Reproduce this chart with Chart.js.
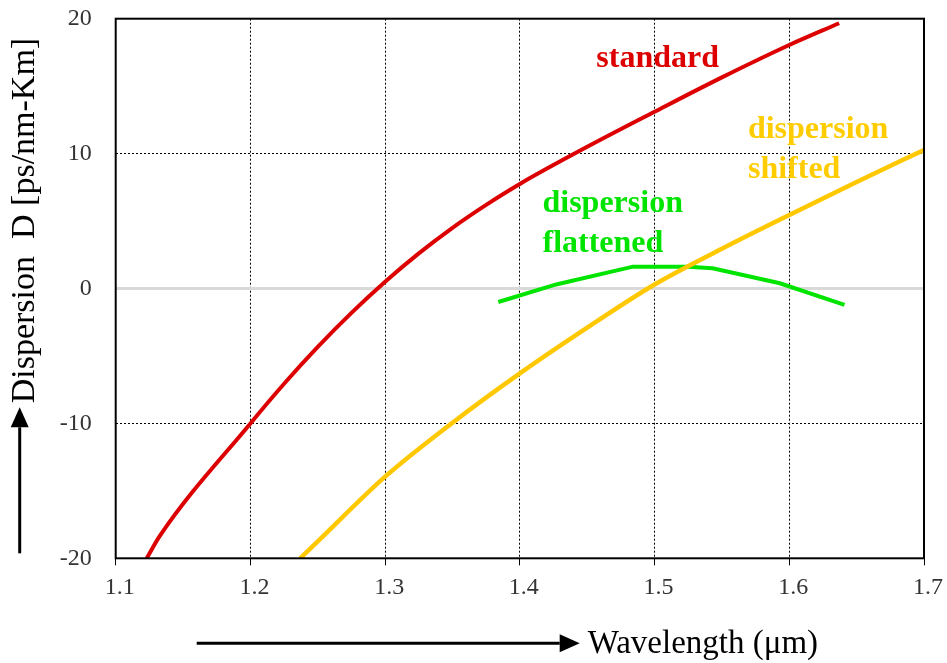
<!DOCTYPE html>
<html lang="en">
<head>
<meta charset="UTF-8">
<title>Dispersion vs Wavelength</title>
<script src="https://cdn.jsdelivr.net/npm/chart.js"></script>
<style>
  body { margin: 0; background: #fff; }
  #chart { display: block; }
</style>
</head>
<body>
<canvas id="chart" width="947" height="663"></canvas>
<script>
// values (wavelength in µm, D in ps/nm-km)
const standardX = [1.123, 1.133, 1.2, 1.225, 1.25, 1.275, 1.3, 1.325, 1.35, 1.375, 1.4, 1.45, 1.5, 1.55, 1.6, 1.637];
const standardY = [-20, -18.3, -10, -7.06, -4.33, -1.81, 0.5, 2.6, 4.5, 6.2, 7.75, 10.5, 13.1, 15.65, 18.05, 19.66];

const shiftedX = [1.237, 1.25, 1.3, 1.35, 1.4, 1.45, 1.5, 1.55, 1.6, 1.65, 1.7];
const shiftedY = [-20, -18.75, -13.95, -9.95, -6.29, -2.9, 0.3, 2.95, 5.45, 7.9, 10.27];

const flattenedX = [1.384, 1.427, 1.484, 1.525, 1.543, 1.593, 1.641];
const flattenedY = [-1.0, 0.3, 1.62, 1.62, 1.5, 0.39, -1.22];

const zeroX = [1.1, 1.7];
const zeroY = [0, 0];

const xTicks = [1.1, 1.2, 1.3, 1.4, 1.5, 1.6, 1.7];
const yTicks = [-20, -10, 0, 10, 20];

const pts = (xs, ys) => xs.map((x, i) => ({ x: x, y: ys[i] }));

// text placed in the plot, anchored in data units
const curveLabels = [
    { lines: ['standard'], x: 1.4568, y: 16.44, color: '#dd0000' },
    { lines: ['dispersion', 'shifted'], x: 1.5693, y: 11.16, color: '#ffcc00' },
    { lines: ['dispersion', 'flattened'], x: 1.4168, y: 5.69, color: '#00e400' }
];

const serif = '"Liberation Serif", "Times New Roman", serif';

function arrow(ctx, x1, y1, x2, y2) {
    const ang = Math.atan2(y2 - y1, x2 - x1);
    const hl = 20, hw = 9;
    const bx = x2 - hl * Math.cos(ang), by = y2 - hl * Math.sin(ang);
    ctx.beginPath();
    ctx.moveTo(x1, y1);
    ctx.lineTo(bx, by);
    ctx.lineWidth = 3;
    ctx.stroke();
    ctx.beginPath();
    ctx.moveTo(x2, y2);
    ctx.lineTo(bx + hw * Math.sin(ang), by - hw * Math.cos(ang));
    ctx.lineTo(bx - hw * Math.sin(ang), by + hw * Math.cos(ang));
    ctx.closePath();
    ctx.fill();
}

const decor = {
    id: 'decor',
    afterDatasetsDraw(chart) {
        const { ctx, chartArea: a, scales } = chart;
        ctx.save();
        ctx.strokeStyle = '#000';
        ctx.lineWidth = 2;
        ctx.strokeRect(a.left, a.top, a.right - a.left, a.bottom - a.top);

        ctx.font = 'bold 32px ' + serif;
        ctx.textAlign = 'left';
        ctx.textBaseline = 'alphabetic';
        curveLabels.forEach(l => {
            ctx.fillStyle = l.color;
            const px = scales.x.getPixelForValue(l.x);
            const py = scales.y.getPixelForValue(l.y);
            l.lines.forEach((t, i) => ctx.fillText(t, px, py + i * 40));
        });
        ctx.restore();
    },
    afterDraw(chart) {
        const { ctx, chartArea: a } = chart;
        ctx.save();
        ctx.fillStyle = '#000';
        ctx.strokeStyle = '#000';

        // y axis title with upward arrow
        arrow(ctx, a.left - 96, a.bottom - 5, a.left - 96, a.bottom - 151);
        ctx.save();
        ctx.translate(a.left - 82, a.bottom - 155);
        ctx.rotate(-Math.PI / 2);
        ctx.font = '34px ' + serif;
        ctx.textAlign = 'left';
        ctx.textBaseline = 'alphabetic';
        ctx.fillText('Dispersion  D [ps/nm-Km]', 0, 0);
        ctx.restore();

        // x axis title with arrow
        arrow(ctx, a.left + 81, a.bottom + 85, a.left + 464, a.bottom + 85);
        ctx.font = '33px ' + serif;
        ctx.textAlign = 'left';
        ctx.textBaseline = 'alphabetic';
        ctx.fillText('Wavelength (μm)', a.left + 472, a.bottom + 95);
        ctx.restore();
    }
};

new Chart(document.getElementById('chart').getContext('2d'), {
    type: 'line',
    data: {
        datasets: [
            {
                label: 'zero',
                data: pts(zeroX, zeroY),
                borderColor: '#d9d9d9',
                borderWidth: 3,
                pointRadius: 0,
                order: 4
            },
            {
                label: 'dispersion flattened',
                data: pts(flattenedX, flattenedY),
                borderColor: '#00e400',
                borderWidth: 4,
                pointRadius: 0,
                tension: 0,
                order: 3
            },
            {
                label: 'dispersion shifted',
                data: pts(shiftedX, shiftedY),
                borderColor: '#ffc800',
                borderWidth: 4.5,
                pointRadius: 0,
                cubicInterpolationMode: 'monotone',
                order: 2
            },
            {
                label: 'standard',
                data: pts(standardX, standardY),
                borderColor: '#dd0000',
                borderWidth: 4,
                pointRadius: 0,
                cubicInterpolationMode: 'monotone',
                order: 1
            }
        ]
    },
    options: {
        responsive: false,
        animation: false,
        layout: { padding: { left: 0, top: 18.7, right: 22.7, bottom: 0 } },
        plugins: {
            legend: { display: false },
            tooltip: { enabled: false }
        },
        scales: {
            x: {
                type: 'linear',
                min: 1.1,
                max: 1.7,
                afterBuildTicks: s => { s.ticks = xTicks.map(v => ({ value: v })); },
                afterFit: s => { s.height = 104.7; },
                ticks: {
                    callback: v => v.toFixed(1),
                    font: { family: serif, size: 24 },
                    color: '#333',
                    padding: 8,
                    labelOffset: 4,
                    maxRotation: 0
                },
                grid: { color: '#000', lineWidth: 1, tickLength: 7, drawTicks: true },
                border: { display: false, dash: [2, 2] }
            },
            y: {
                min: -20,
                max: 20,
                afterBuildTicks: s => { s.ticks = yTicks.map(v => ({ value: v })); },
                afterFit: s => { s.width = 115.7; },
                ticks: {
                    callback: v => String(v),
                    font: { family: serif, size: 24 },
                    color: '#333',
                    padding: 0
                },
                grid: {
                    color: c => (c.tick && c.tick.value === 0) ? 'rgba(0,0,0,0)' : '#000',
                    lineWidth: 1,
                    drawTicks: true,
                    tickLength: 24,
                    tickColor: 'rgba(0,0,0,0)'
                },
                border: { display: false, dash: [2, 2] }
            }
        }
    },
    plugins: [decor]
});
</script>
</body>
</html>
